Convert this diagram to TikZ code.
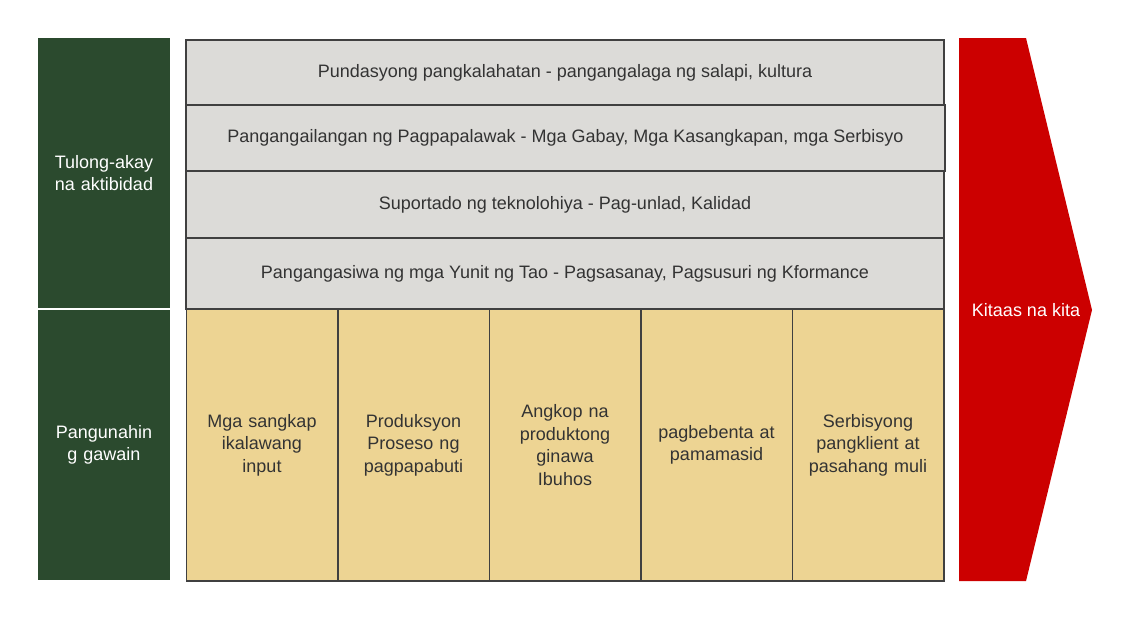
\documentclass[tikz,border=0pt]{standalone}
\usepackage{fontspec}
\setmainfont{Liberation Sans}
\definecolor{grn}{HTML}{2B4A2E}
\definecolor{gryf}{HTML}{DCDBD8}
\definecolor{ylw}{HTML}{EDD493}
\definecolor{redc}{HTML}{CC0000}
\definecolor{txt}{HTML}{333333}
\definecolor{edge}{HTML}{404040}
\begin{document}
\begin{tikzpicture}[x=1pt,y=-1pt,
  base/.style={inner sep=0pt, outer sep=0pt, align=center, font=\fontsize{18}{22.5}\selectfont},
  greenbox/.style={base, fill=grn, text=white, minimum width=132pt, minimum height=270pt, text width=125pt},
  rowbox/.style={base, fill=gryf, draw=edge, line width=1.5pt, text=txt, minimum width=758pt},
  cellbox/.style={base, fill=ylw, draw=edge, line width=1.5pt, text=txt, minimum width=151.5pt, minimum height=272pt, text width=140pt}]
\useasboundingbox (0,0) rectangle (1147,619);
\fill[white] (0,0) rectangle (1147,619);
% left green
\node[greenbox] (g1) at (104,173) {Tulong-akay\\na aktibidad};
\node[greenbox] (g2) at (104,445) {Pangunahin\\g gawain};
% gray rows
\node[rowbox, minimum height=65pt] (r1) at (565,72.5) {Pundasyong pangkalahatan - pangangalaga ng salapi, kultura};
\node[rowbox, minimum height=66pt, minimum width=759pt] (r2) at (565.5,138) {Pangangailangan ng Pagpapalawak - Mga Gabay, Mga Kasangkapan, mga Serbisyo};
\node[rowbox, minimum height=67pt] (r3) at (565,204.5) {Suportado ng teknolohiya - Pag-unlad, Kalidad};
\node[rowbox, minimum height=71pt] (r4) at (565,273.5) {Pangangasiwa ng mga Yunit ng Tao - Pagsasanay, Pagsusuri ng Kformance};
% yellow cells
\node[cellbox] (c1) at (262,445) {Mga sangkap\\ikalawang\\input};
\node[cellbox] (c2) at (413.5,445) {Produksyon\\Proseso ng\\pagpapabuti};
\node[cellbox] (c3) at (565,445) {Angkop na\\produktong\\ginawa\\Ibuhos};
\node[cellbox] (c4) at (716.5,445) {pagbebenta at\\pamamasid};
\node[cellbox] (c5) at (868,445) {Serbisyong\\pangklient at\\pasahang muli};
% red arrow
\fill[redc] (959,38) -- (1026,38) -- (1092,310) -- (1026,581) -- (959,581) -- cycle;
\node[base, text=white] (k) at (1026,310) {Kitaas na kita};
\end{tikzpicture}
\end{document}
